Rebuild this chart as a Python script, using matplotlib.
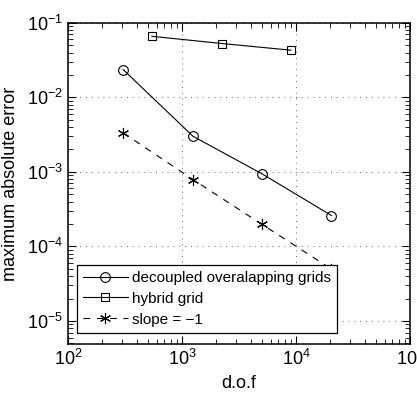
import matplotlib
matplotlib.use("Agg")
import matplotlib.pyplot as plt
import numpy as np

plt.rcParams['font.family'] = ['Liberation Sans', 'DejaVu Sans']
plt.rcParams['mathtext.fontset'] = 'custom'
plt.rcParams['mathtext.rm'] = 'Liberation Sans'

# data
dof_dec = [305, 1250, 5050, 20500]
err_dec = [0.0236, 0.00301, 0.00094, 0.00026]
dof_hyb = [545, 2245, 9040]
err_hyb = [0.066, 0.0528, 0.043]
dof_slope = [305, 1250, 5050, 20500]
err_slope = [0.00334, 0.00079, 0.000197, 0.0000497]

fig = plt.figure(figsize=(4.17, 4.01), dpi=100)
ax = fig.add_axes([0.163, 0.142, 0.82, 0.801])

ax.loglog(dof_dec, err_dec, 'k-', lw=0.8, marker='o', ms=7, mfc='none', mew=0.8,
          label='decoupled overalapping grids')
ax.loglog(dof_hyb, err_hyb, 'k-', lw=0.8, marker='s', ms=6, mfc='none', mew=0.8,
          label='hybrid grid')
ax.loglog(dof_slope, err_slope, 'k--', lw=0.8, dashes=(6, 6), marker=(6, 2, 0), ms=8, mew=0.8,
          label='slope = \u22121')

ax.set_xlim(1e2, 1e5)
ax.set_ylim(4.9e-6, 1e-1)
ax.grid(True, which='major', ls=(0, (1, 5)), color='k', lw=0.7, alpha=0.6)
ax.tick_params(which='both', direction='in', top=True, right=True, labelsize=13)
ax.tick_params(which='major', length=6)
ax.tick_params(which='minor', length=3.5)
for s in ax.spines.values():
    s.set_linewidth(1.1)

ax.set_xlabel('d.o.f', fontsize=13)
ax.set_ylabel('maximum absolute error', fontsize=13, labelpad=6)

leg = ax.legend(loc='lower left', bbox_to_anchor=(0.025, 0.034), borderaxespad=0,
                fontsize=11, fancybox=False, framealpha=1, edgecolor='k',
                handlelength=2.95, handletextpad=0.25, labelspacing=0.45,
                borderpad=0.42)
leg.get_frame().set_linewidth(0.9)

fig.savefig('out.png', dpi=100)
